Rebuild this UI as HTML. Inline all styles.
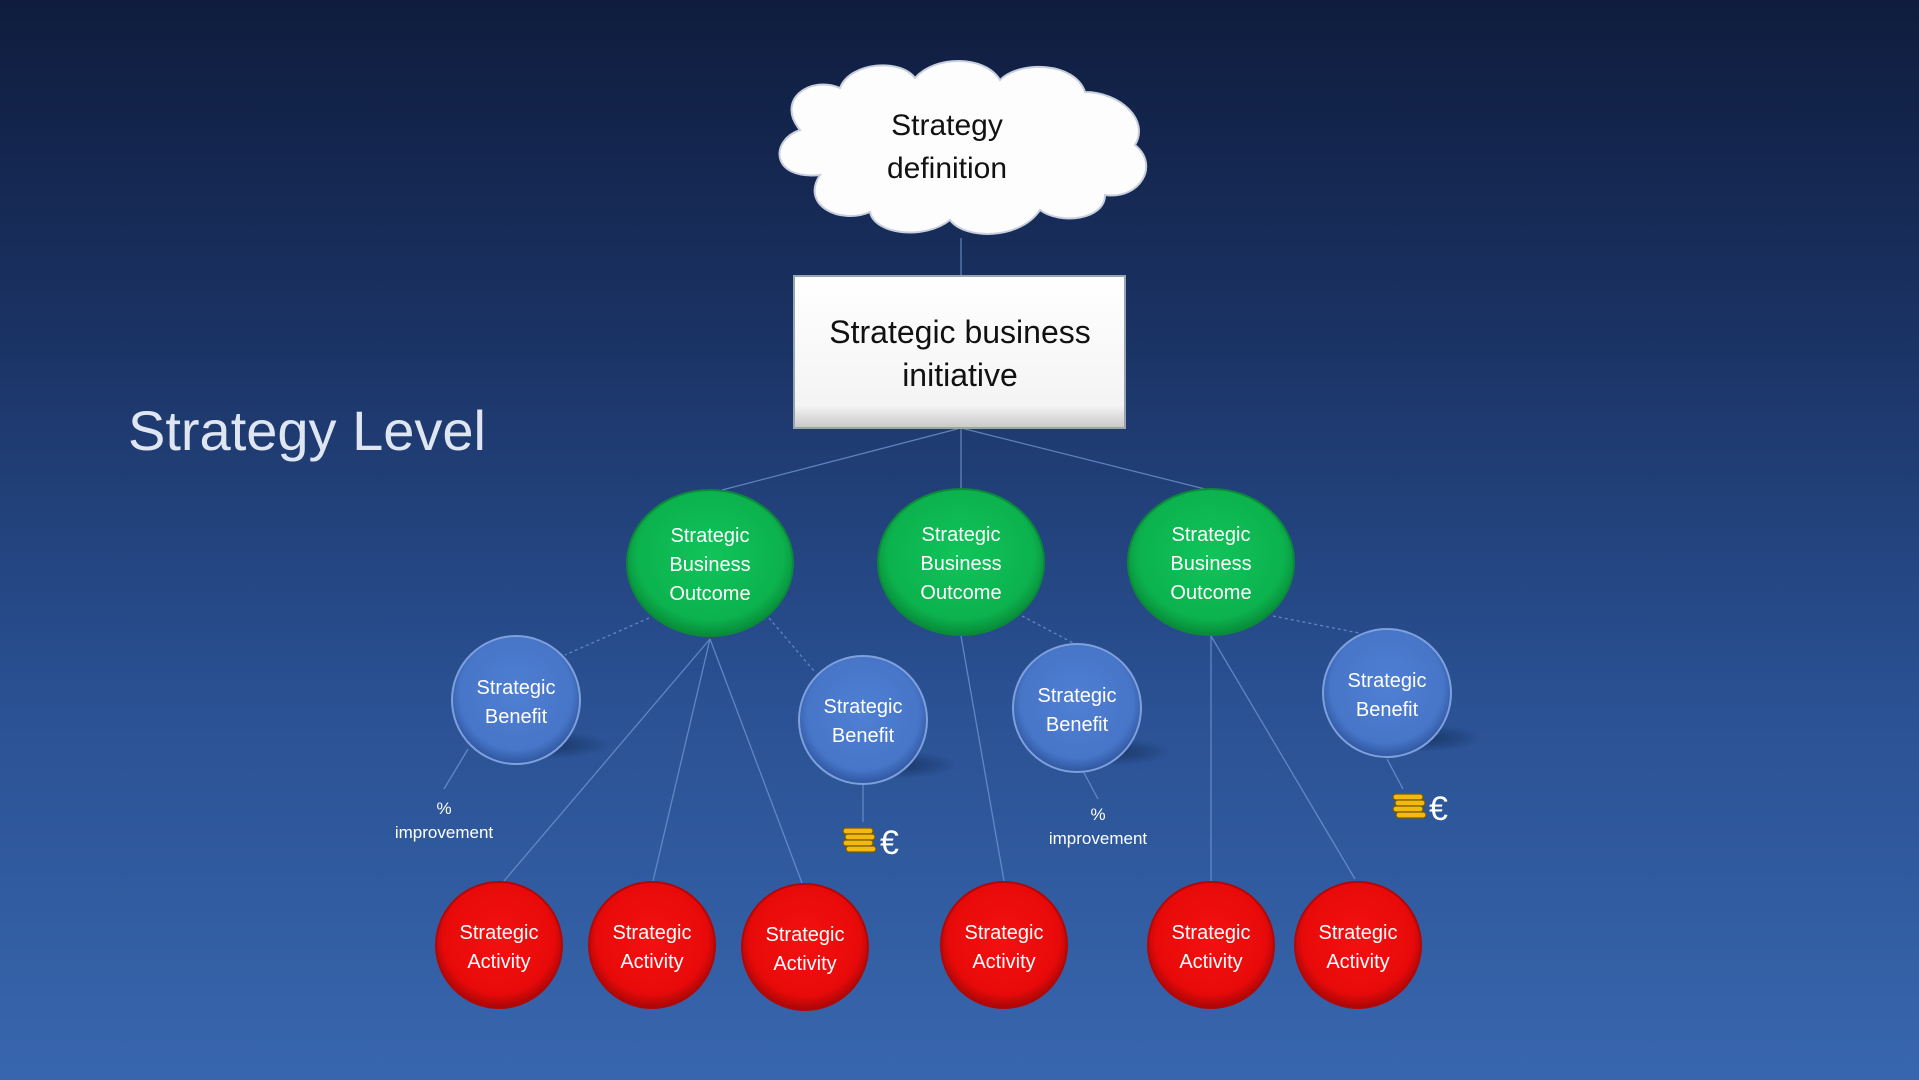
<!DOCTYPE html>
<html><head><meta charset="utf-8"><style>
html,body{margin:0;padding:0;width:1919px;height:1080px;overflow:hidden}
body{background:linear-gradient(180deg,#0f1c3d 0%,#1a3263 30%,#2a5193 65%,#3866ae 100%)}
svg{position:absolute;left:0;top:0}
text{font-family:"Liberation Sans",sans-serif}
</style></head><body>
<svg width="1919" height="1080" viewBox="0 0 1919 1080" xmlns="http://www.w3.org/2000/svg">
<defs>
<radialGradient id="gG" cx="50%" cy="45%" r="55%"><stop offset="0" stop-color="#10c45a"/><stop offset="0.8" stop-color="#0cb24e"/><stop offset="1" stop-color="#078a38"/></radialGradient>
<radialGradient id="gB" cx="50%" cy="45%" r="55%"><stop offset="0" stop-color="#4f80d4"/><stop offset="0.8" stop-color="#4775c8"/><stop offset="1" stop-color="#2f569e"/></radialGradient>
<radialGradient id="gR" cx="50%" cy="45%" r="55%"><stop offset="0" stop-color="#f41010"/><stop offset="0.8" stop-color="#e80a0a"/><stop offset="1" stop-color="#a80606"/></radialGradient>
<radialGradient id="sh" cx="50%" cy="50%" r="50%"><stop offset="0" stop-color="#0a1a3a" stop-opacity="0.55"/><stop offset="1" stop-color="#0a1a3a" stop-opacity="0"/></radialGradient>
<linearGradient id="box" x1="0" y1="0" x2="0" y2="1"><stop offset="0" stop-color="#ffffff"/><stop offset="0.85" stop-color="#f4f4f4"/><stop offset="1" stop-color="#c8c8c8"/></linearGradient>
</defs>
<g stroke="#6f93cf" stroke-width="1.3" fill="none" opacity="0.8">
<line x1="961" y1="238" x2="961" y2="278"/>
<line x1="961" y1="428" x2="722" y2="490"/>
<line x1="961" y1="428" x2="961" y2="490"/>
<line x1="961" y1="428" x2="1205" y2="489"/>
<line x1="710" y1="639" x2="504" y2="881"/>
<line x1="710" y1="639" x2="653" y2="881"/>
<line x1="710" y1="639" x2="802" y2="883"/>
<line x1="961" y1="636" x2="1004" y2="881"/>
<line x1="1211" y1="636" x2="1211" y2="881"/>
<line x1="1211" y1="636" x2="1355" y2="879"/>
<line x1="468" y1="749" x2="444" y2="789"/>
<line x1="863" y1="783" x2="863" y2="822"/>
<line x1="1083" y1="771" x2="1098" y2="799"/>
<line x1="1387" y1="759" x2="1403" y2="789"/>
<g stroke-dasharray="3,3">
<line x1="649" y1="618" x2="565" y2="655"/>
<line x1="769" y1="618" x2="814" y2="671"/>
<line x1="1022" y1="616" x2="1077" y2="645"/>
<line x1="1273" y1="616" x2="1359" y2="633"/>
</g>
</g>
<!-- cloud -->
<g>
<path d="M820,175 C770,180 770,140 800,130 C775,100 810,75 840,88 C850,62 900,58 915,78 C935,55 985,55 1000,80 C1020,60 1075,62 1085,92 C1120,92 1150,120 1135,145 C1160,165 1140,200 1105,195 C1105,220 1060,225 1040,210 C1020,240 965,240 950,220 C925,240 875,235 870,212 C840,225 800,205 820,175 Z" fill="#fdfdfd" stroke="#c8cfdc" stroke-width="2"/>
<text x="947" y="135" font-size="30" text-anchor="middle" fill="#111">Strategy</text>
<text x="947" y="178" font-size="30" text-anchor="middle" fill="#111">definition</text>
</g>
<!-- box -->
<rect x="794" y="276" width="331" height="152" fill="url(#box)" stroke="#9aa3b0" stroke-width="2"/>
<text x="960" y="343" font-size="32" text-anchor="middle" fill="#111">Strategic business</text>
<text x="960" y="386" font-size="32" text-anchor="middle" fill="#111">initiative</text>
<text x="128" y="450" font-size="56" fill="#dfe6f2">Strategy Level</text>
<!-- greens -->
<g font-size="20" fill="#fff" text-anchor="middle">
<g><ellipse cx="710" cy="563" rx="83" ry="73" fill="url(#gG)" stroke="#0a8a3a" stroke-width="2"/><text x="710" y="542" fill="#fff">Strategic</text><text x="710" y="571" fill="#fff">Business</text><text x="710" y="600" fill="#fff">Outcome</text></g>
<g><ellipse cx="961" cy="562" rx="83" ry="73" fill="url(#gG)" stroke="#0a8a3a" stroke-width="2"/><text x="961" y="541" fill="#fff">Strategic</text><text x="961" y="570" fill="#fff">Business</text><text x="961" y="599" fill="#fff">Outcome</text></g>
<g><ellipse cx="1211" cy="562" rx="83" ry="73" fill="url(#gG)" stroke="#0a8a3a" stroke-width="2"/><text x="1211" y="541" fill="#fff">Strategic</text><text x="1211" y="570" fill="#fff">Business</text><text x="1211" y="599" fill="#fff">Outcome</text></g>
</g>
<!-- blues -->
<g font-size="20" text-anchor="middle">
<ellipse cx="545" cy="745" rx="65" ry="14" fill="url(#sh)"/>
<ellipse cx="893" cy="765" rx="65" ry="14" fill="url(#sh)"/>
<ellipse cx="1107" cy="752" rx="65" ry="14" fill="url(#sh)"/>
<ellipse cx="1417" cy="738" rx="65" ry="14" fill="url(#sh)"/>
<circle cx="516" cy="700" r="64" fill="url(#gB)" stroke="#7ea0dc" stroke-width="2"/><text x="516" y="694" fill="#fff">Strategic</text><text x="516" y="723" fill="#fff">Benefit</text>
<circle cx="863" cy="720" r="64" fill="url(#gB)" stroke="#7ea0dc" stroke-width="2"/><text x="863" y="713" fill="#fff">Strategic</text><text x="863" y="742" fill="#fff">Benefit</text>
<circle cx="1077" cy="708" r="64" fill="url(#gB)" stroke="#7ea0dc" stroke-width="2"/><text x="1077" y="702" fill="#fff">Strategic</text><text x="1077" y="731" fill="#fff">Benefit</text>
<circle cx="1387" cy="693" r="64" fill="url(#gB)" stroke="#7ea0dc" stroke-width="2"/><text x="1387" y="687" fill="#fff">Strategic</text><text x="1387" y="716" fill="#fff">Benefit</text>
</g>
<!-- reds -->
<g font-size="20" text-anchor="middle">
<g><circle cx="499" cy="945" r="63" fill="url(#gR)" stroke="#b00808" stroke-width="2"/><text x="499" y="939" fill="#fff">Strategic</text><text x="499" y="968" fill="#fff">Activity</text></g>
<g><circle cx="652" cy="945" r="63" fill="url(#gR)" stroke="#b00808" stroke-width="2"/><text x="652" y="939" fill="#fff">Strategic</text><text x="652" y="968" fill="#fff">Activity</text></g>
<g><circle cx="805" cy="947" r="63" fill="url(#gR)" stroke="#b00808" stroke-width="2"/><text x="805" y="941" fill="#fff">Strategic</text><text x="805" y="970" fill="#fff">Activity</text></g>
<g><circle cx="1004" cy="945" r="63" fill="url(#gR)" stroke="#b00808" stroke-width="2"/><text x="1004" y="939" fill="#fff">Strategic</text><text x="1004" y="968" fill="#fff">Activity</text></g>
<g><circle cx="1211" cy="945" r="63" fill="url(#gR)" stroke="#b00808" stroke-width="2"/><text x="1211" y="939" fill="#fff">Strategic</text><text x="1211" y="968" fill="#fff">Activity</text></g>
<g><circle cx="1358" cy="945" r="63" fill="url(#gR)" stroke="#b00808" stroke-width="2"/><text x="1358" y="939" fill="#fff">Strategic</text><text x="1358" y="968" fill="#fff">Activity</text></g>
</g>
<!-- labels -->
<g font-size="17" fill="#fff" text-anchor="middle">
<text x="444" y="814">%</text><text x="444" y="838">improvement</text>
<text x="1098" y="820">%</text><text x="1098" y="844">improvement</text>
</g>
<!-- coins -->
<g>
<g fill="#f2b90f" stroke="#7a5a00" stroke-width="1.2">
<rect x="843" y="828" width="30" height="6" rx="3"/><rect x="845" y="834" width="30" height="6" rx="3"/><rect x="843" y="840" width="30" height="6" rx="3"/><rect x="846" y="846" width="30" height="6" rx="3"/>
<rect x="1393" y="794" width="30" height="6" rx="3"/><rect x="1395" y="800" width="30" height="6" rx="3"/><rect x="1393" y="806" width="30" height="6" rx="3"/><rect x="1396" y="812" width="30" height="6" rx="3"/>
</g>
<text x="880" y="854" font-size="34" fill="#fff">€</text>
<text x="1429" y="820" font-size="34" fill="#fff">€</text>
</g>
</svg>
</body></html>
